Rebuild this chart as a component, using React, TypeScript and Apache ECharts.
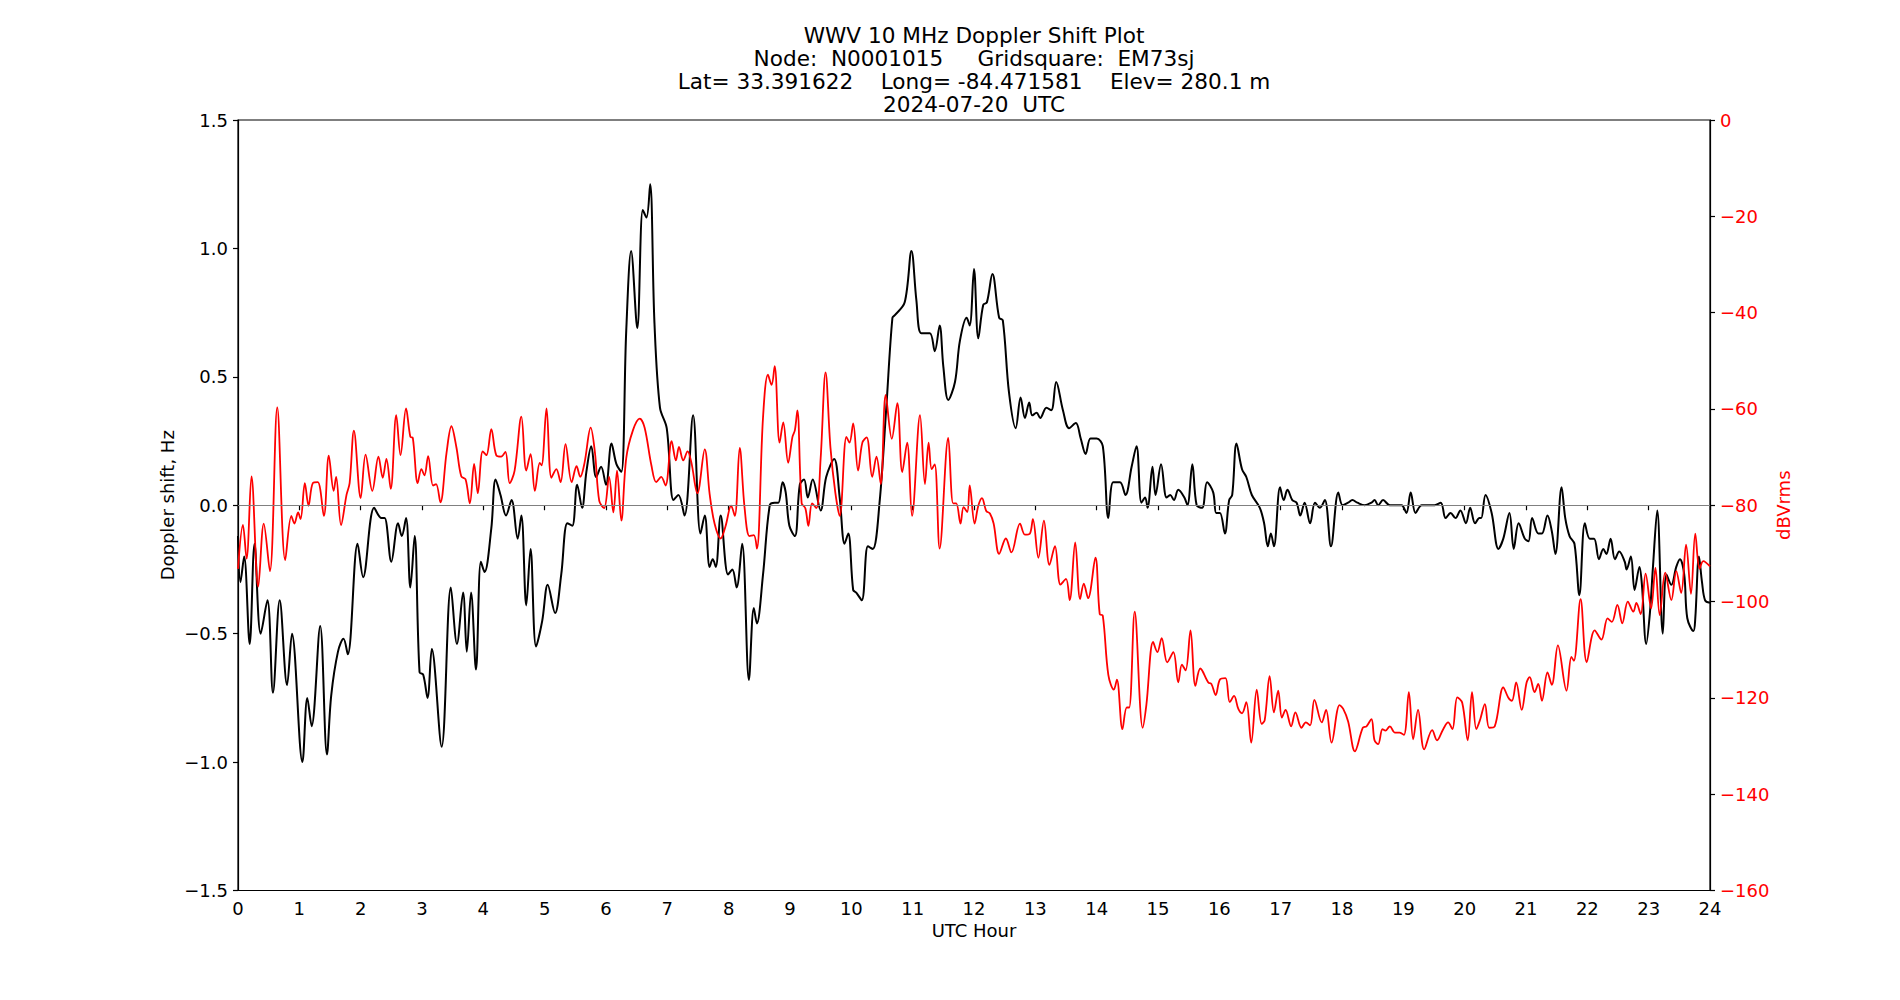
import React, { useEffect, useRef } from "react";
import * as echarts from "echarts";

const titleLines = [
  "WWV 10 MHz Doppler Shift Plot",
  "Node:  N0001015     Gridsquare:  EM73sj",
  "Lat= 33.391622    Long= -84.471581    Elev= 280.1 m",
  "2024-07-20  UTC",
];

const dopplerT = [
  0.0, 0.04, 0.1, 0.19, 0.27, 0.37, 0.48, 0.57, 0.68, 0.8, 0.88, 1.05, 1.13, 1.2, 1.34, 1.45, 1.52, 1.63, 1.72, 1.79,
  1.95, 2.04, 2.22, 2.34, 2.39, 2.5, 2.61, 2.67, 2.74, 2.81, 2.88, 2.96, 3.02, 3.09, 3.16, 3.32, 3.47, 3.57, 3.67, 3.73,
  3.8, 3.88, 3.96, 4.02, 4.13, 4.2, 4.28, 4.37, 4.46, 4.56, 4.62, 4.7, 4.77, 4.86, 4.96, 5.05, 5.17, 5.27, 5.37, 5.45,
  5.53, 5.61, 5.68, 5.76, 5.84, 5.92, 6.0, 6.09, 6.17, 6.25, 6.33, 6.41, 6.51, 6.6, 6.66, 6.72, 6.79, 6.88, 6.99, 7.1,
  7.18, 7.28, 7.42, 7.54, 7.61, 7.69, 7.74, 7.79, 7.87, 7.99, 8.06, 8.13, 8.22, 8.33, 8.41, 8.46, 8.56, 8.67, 8.75, 8.81,
  8.88, 8.93, 8.99, 9.08, 9.16, 9.23, 9.29, 9.37, 9.5, 9.59, 9.72, 9.81, 9.89, 9.95, 10.03, 10.08, 10.17, 10.27, 10.35,
  10.46, 10.57, 10.67, 10.71, 10.87, 10.98, 11.06, 11.14, 11.28, 11.36, 11.44, 11.5, 11.58, 11.69, 11.77, 11.88, 11.93,
  12.0, 12.07, 12.15, 12.21, 12.3, 12.41, 12.47, 12.57, 12.68, 12.76, 12.83, 12.9, 12.95, 13.02, 13.08, 13.18, 13.26,
  13.34, 13.45, 13.55, 13.66, 13.74, 13.82, 13.9, 14.0, 14.1, 14.19, 14.27, 14.38, 14.47, 14.57, 14.65, 14.73, 14.79,
  14.83, 14.91, 14.96, 15.05, 15.14, 15.2, 15.26, 15.33, 15.43, 15.48, 15.56, 15.63, 15.72, 15.8, 15.9, 15.95, 16.01,
  16.09, 16.16, 16.21, 16.28, 16.37, 16.44, 16.53, 16.66, 16.73, 16.79, 16.84, 16.89, 16.99, 17.05, 17.11, 17.19, 17.26,
  17.32, 17.39, 17.48, 17.56, 17.64, 17.72, 17.82, 17.94, 18.01, 18.1, 18.17, 18.25, 18.37, 18.48, 18.53, 18.59, 18.67,
  18.78, 18.97, 19.05, 19.12, 19.2, 19.3, 19.51, 19.61, 19.69, 19.77, 19.85, 19.93, 20.02, 20.09, 20.17, 20.24, 20.27,
  20.34, 20.44, 20.55, 20.63, 20.73, 20.8, 20.88, 20.98, 21.04, 21.1, 21.2, 21.26, 21.35, 21.42, 21.48, 21.58, 21.64,
  21.71, 21.79, 21.87, 21.96, 22.04, 22.11, 22.19, 22.26, 22.31, 22.38, 22.45, 22.52, 22.61, 22.64, 22.71, 22.77, 22.85,
  22.89, 22.96, 23.02, 23.07, 23.14, 23.23, 23.29, 23.37, 23.45, 23.51, 23.58, 23.63, 23.73, 23.76, 23.82, 23.87, 23.92,
  24.0,
];
const dopplerHz = [
  -0.12, -0.3, -0.2, -0.54, -0.15, -0.5, -0.37, -0.73, -0.37, -0.7, -0.5, -1.0, -0.75, -0.86, -0.47, -0.97, -0.74, -0.57,
  -0.52, -0.58, -0.15, -0.28, -0.01, -0.05, -0.05, -0.22, -0.07, -0.12, -0.05, -0.32, -0.12, -0.65, -0.66, -0.75, -0.56,
  -0.94, -0.32, -0.54, -0.34, -0.57, -0.34, -0.64, -0.22, -0.26, -0.09, 0.1, 0.04, -0.04, 0.02, -0.13, -0.04, -0.39,
  -0.17, -0.55, -0.45, -0.31, -0.42, -0.27, -0.07, -0.08, 0.08, -0.01, 0.13, 0.23, 0.11, 0.15, 0.08, 0.24, 0.16, 0.13,
  0.68, 0.99, 0.69, 1.15, 1.12, 1.25, 0.71, 0.38, 0.3, 0.02, 0.04, -0.04, 0.35, -0.11, -0.04, -0.24, -0.21, -0.24, -0.04,
  -0.27, -0.25, -0.32, -0.15, -0.68, -0.4, -0.46, -0.27, 0.0, 0.01, 0.01, 0.09, 0.05, -0.08, -0.12, 0.08, 0.1, 0.03, 0.1,
  -0.02, 0.11, 0.18, 0.03, -0.15, -0.11, -0.33, -0.34, -0.37, -0.16, -0.17, 0.01, 0.38, 0.73, 0.74, 0.79, 0.99, 0.8, 0.67,
  0.67, 0.6, 0.7, 0.54, 0.41, 0.48, 0.64, 0.73, 0.7, 0.92, 0.65, 0.78, 0.79, 0.9, 0.73, 0.72, 0.44, 0.3, 0.42, 0.34, 0.4,
  0.35, 0.36, 0.34, 0.38, 0.37, 0.48, 0.37, 0.3, 0.32, 0.26, 0.2, 0.26, 0.26, 0.23, -0.05, 0.09, 0.09, 0.04, 0.15, 0.23,
  0.01, 0.03, -0.01, 0.15, 0.04, 0.16, 0.03, 0.04, 0.02, 0.06, 0.03, 0.0, 0.16, 0.0, -0.01, 0.09, 0.05, -0.03, -0.03,
  -0.11, 0.02, 0.04, 0.24, 0.14, 0.11, 0.04, -0.01, -0.07, -0.16, -0.11, -0.16, 0.07, 0.02, 0.06, 0.02, 0.01, -0.04, 0.01,
  -0.07, 0.01, -0.01, 0.02, -0.16, 0.05, 0.0, 0.01, 0.02, 0.01, 0.0, 0.01, 0.02, 0.0, 0.02, 0.0, 0.0, -0.03, 0.05, -0.03,
  0.0, 0.0, 0.01, -0.05, -0.03, -0.05, -0.02, -0.07, -0.01, -0.07, -0.05, -0.05, 0.04, -0.03, -0.17, -0.13, -0.03, -0.17,
  -0.07, -0.13, -0.14, -0.05, -0.11, -0.11, -0.04, -0.1, -0.19, 0.07, -0.05, -0.12, -0.15, -0.35, -0.07, -0.13, -0.13,
  -0.21, -0.17, -0.19, -0.13, -0.21, -0.18, -0.22, -0.25, -0.2, -0.33, -0.24, -0.31, -0.54, -0.42, -0.24, -0.02, -0.5,
  -0.27, -0.31, -0.24, -0.21, -0.27, -0.44, -0.49, -0.44, -0.2, -0.3, -0.37, -0.38,
];

const powerT = [
  0.0, 0.08, 0.14, 0.22, 0.33, 0.42, 0.52, 0.64, 0.77, 0.87, 0.92, 0.98, 1.02, 1.09, 1.15, 1.22, 1.3, 1.4, 1.48, 1.56, 1.6,
  1.68, 1.77, 1.82, 1.89, 2.0, 2.08, 2.19, 2.29, 2.36, 2.42, 2.49, 2.58, 2.65, 2.74, 2.81, 2.85, 2.93, 2.99, 3.04, 3.1,
  3.18, 3.23, 3.3, 3.4, 3.48, 3.56, 3.64, 3.71, 3.78, 3.85, 3.91, 3.99, 4.05, 4.13, 4.21, 4.29, 4.36, 4.43, 4.51, 4.62,
  4.7, 4.77, 4.84, 4.92, 4.95, 5.03, 5.11, 5.19, 5.26, 5.34, 5.44, 5.52, 5.58, 5.65, 5.75, 5.82, 5.89, 5.97, 6.05, 6.12,
  6.18, 6.25, 6.33, 6.44, 6.55, 6.63, 6.74, 6.82, 6.9, 6.97, 7.07, 7.14, 7.19, 7.26, 7.33, 7.39, 7.49, 7.61, 7.69, 7.77,
  7.87, 7.95, 8.04, 8.1, 8.18, 8.26, 8.34, 8.41, 8.46, 8.56, 8.64, 8.7, 8.75, 8.83, 8.89, 8.97, 9.04, 9.08, 9.12, 9.19,
  9.25, 9.3, 9.36, 9.43, 9.5, 9.58, 9.66, 9.74, 9.81, 9.92, 9.97, 10.03, 10.11, 10.18, 10.25, 10.34, 10.41, 10.48, 10.56,
  10.66, 10.75, 10.83, 10.91, 10.99, 11.12, 11.2, 11.26, 11.31, 11.36, 11.44, 11.58, 11.66, 11.71, 11.78, 11.83, 11.89,
  11.93, 12.01, 12.07, 12.13, 12.2, 12.26, 12.32, 12.41, 12.52, 12.61, 12.75, 12.83, 12.91, 12.96, 13.05, 13.14, 13.23,
  13.32, 13.41, 13.5, 13.56, 13.65, 13.73, 13.79, 13.86, 13.98, 14.05, 14.1, 14.19, 14.28, 14.33, 14.42, 14.49, 14.53,
  14.62, 14.75, 14.81, 14.92, 14.99, 15.06, 15.15, 15.25, 15.33, 15.39, 15.45, 15.53, 15.61, 15.69, 15.82, 15.87, 15.94,
  16.01, 16.1, 16.17, 16.24, 16.31, 16.37, 16.44, 16.52, 16.61, 16.69, 16.74, 16.82, 16.89, 16.96, 17.02, 17.08, 17.17,
  17.24, 17.34, 17.41, 17.48, 17.55, 17.67, 17.74, 17.83, 17.96, 18.02, 18.1, 18.21, 18.34, 18.4, 18.48, 18.53, 18.59,
  18.66, 18.71, 18.78, 18.86, 18.94, 19.01, 19.09, 19.16, 19.24, 19.34, 19.47, 19.55, 19.65, 19.73, 19.8, 19.88, 19.96,
  20.05, 20.12, 20.19, 20.25, 20.33, 20.4, 20.49, 20.63, 20.71, 20.77, 20.84, 20.93, 21.01, 21.06, 21.14, 21.2, 21.26,
  21.35, 21.42, 21.52, 21.66, 21.74, 21.78, 21.89, 21.99, 22.12, 22.23, 22.33, 22.4, 22.49, 22.57, 22.66, 22.75, 22.8,
  22.87, 22.95, 23.04, 23.11, 23.18, 23.27, 23.37, 23.45, 23.53, 23.61, 23.69, 23.76, 23.83, 23.89, 24.0,
];
const powerDb = [
  -93.2, -84.1, -91.1, -74.0, -96.9, -83.8, -93.7, -59.7, -91.4, -82.2, -83.8, -81.5, -82.9, -75.4, -80.1, -75.4, -75.2,
  -82.2, -69.7, -77.0, -74.1, -84.1, -77.8, -75.4, -64.5, -78.5, -69.5, -77.0, -69.9, -74.3, -70.4, -76.6, -61.3, -69.6,
  -59.9, -65.8, -66.0, -75.4, -72.5, -73.8, -69.8, -75.9, -75.6, -79.4, -69.1, -63.6, -67.9, -74.0, -74.6, -79.6, -71.4,
  -77.5, -68.8, -69.6, -64.2, -69.6, -69.9, -68.9, -75.4, -72.8, -61.6, -72.8, -69.4, -77.0, -71.2, -71.7, -59.9, -74.3,
  -72.5, -75.2, -67.3, -75.2, -71.9, -74.1, -71.2, -63.9, -69.1, -79.1, -80.6, -74.1, -81.5, -72.8, -83.2, -70.2, -64.4,
  -62.0, -63.9, -71.7, -75.2, -74.1, -75.9, -66.7, -70.7, -67.9, -70.7, -68.8, -71.0, -77.5, -68.4, -77.7, -83.8, -86.9,
  -84.3, -80.1, -82.2, -68.1, -80.6, -86.4, -86.2, -89.0, -61.8, -52.9, -55.0, -51.1, -67.0, -62.8, -71.2, -65.8, -64.4,
  -60.3, -79.6, -80.6, -84.3, -79.6, -80.6, -70.2, -52.4, -68.1, -77.5, -82.2, -65.8, -67.0, -63.0, -72.8, -67.0, -65.9,
  -74.1, -69.9, -75.6, -57.1, -66.2, -58.8, -73.1, -67.0, -82.2, -61.3, -75.6, -67.0, -72.5, -71.5, -89.0, -66.0, -79.6,
  -79.6, -83.8, -80.4, -81.4, -75.9, -83.8, -80.1, -78.5, -81.2, -81.7, -83.8, -90.1, -86.9, -89.8, -83.8, -86.1, -85.9,
  -82.9, -90.9, -83.2, -92.4, -88.5, -96.5, -95.3, -99.7, -87.7, -99.5, -96.3, -99.3, -90.9, -102.6, -102.9, -115.2,
  -118.3, -116.2, -126.5, -122.0, -122.0, -102.1, -126.2, -121.5, -108.4, -110.5, -107.6, -112.6, -110.5, -116.8, -113.1,
  -114.3, -106.0, -117.5, -113.9, -116.8, -117.1, -119.4, -116.2, -115.9, -120.9, -119.6, -122.3, -123.2, -120.9, -129.3,
  -118.3, -125.4, -124.6, -115.5, -123.0, -118.5, -124.1, -122.5, -125.9, -123.0, -126.2, -125.1, -125.7, -120.4, -125.1,
  -122.5, -129.3, -121.5, -122.3, -124.9, -131.1, -126.2, -125.9, -124.4, -128.8, -129.6, -126.5, -126.8, -125.9, -127.2,
  -127.2, -127.7, -118.8, -128.6, -122.5, -130.7, -126.7, -128.8, -126.5, -125.1, -126.5, -119.9, -121.0, -128.8, -118.8,
  -126.5, -124.6, -121.3, -126.2, -125.9, -117.8, -119.9, -120.6, -116.8, -122.5, -116.8, -115.7, -118.8, -117.1, -120.6,
  -114.7, -117.3, -109.1, -118.5, -111.5, -112.3, -99.5, -112.6, -106.0, -107.9, -103.5, -104.2, -100.7, -104.5, -100.0,
  -102.1, -100.3, -102.6, -94.2, -101.4, -93.0, -102.8, -94.0, -99.7, -93.7, -98.2, -88.2, -98.4, -85.9, -93.2, -91.6,
  -92.7,
];

const FONT = "DejaVu Sans";
const minus = (s: string) => s.replace("-", "\u2212");

export default function App() {
  const ref = useRef<HTMLDivElement>(null);
  useEffect(() => {
    document.body.style.margin = "0";
    if (!ref.current) return;
    const chart = echarts.init(ref.current, undefined, { renderer: "svg" });
    const left = 238;
    const right = 1710;
    const top = 120;
    const bottom = 890.5;
    const cx = (left + right) / 2;
    const cy = (top + bottom) / 2;
    const titleY = [35, 58, 81, 104];
    const tickFont = 18;
    chart.setOption({
      animation: false,
      backgroundColor: "#ffffff",
      grid: {
        left,
        top,
        width: right - left,
        height: bottom - top,
        show: true,
        borderColor: "#000",
        borderWidth: 1.2,
        backgroundColor: "transparent",
      },
      xAxis: {
        type: "value",
        min: 0,
        max: 24,
        interval: 1,
        axisLine: { show: true, lineStyle: { color: "#000", width: 1.2 } },
        axisTick: { show: true, inside: false, length: 5, lineStyle: { color: "#000", width: 1.2 } },
        axisLabel: { color: "#000", fontFamily: FONT, fontSize: tickFont, margin: 9 },
        splitLine: { show: false },
      },
      yAxis: [
        {
          type: "value",
          min: -1.5,
          max: 1.5,
          interval: 0.5,
          position: "left",
          axisLine: { show: true, lineStyle: { color: "#000", width: 1.2 } },
          axisTick: { show: true, inside: false, length: 5, lineStyle: { color: "#000", width: 1.2 } },
          axisLabel: {
            color: "#000",
            fontFamily: FONT,
            fontSize: tickFont,
            margin: 10,
            formatter: (v: number) => minus(v.toFixed(1)),
          },
          splitLine: { show: false },
        },
        {
          type: "value",
          min: -160,
          max: 0,
          interval: 20,
          position: "right",
          axisLine: { show: true, lineStyle: { color: "#000", width: 1.2 } },
          axisTick: { show: true, inside: false, length: 5, lineStyle: { color: "#000", width: 1.2 } },
          axisLabel: {
            color: "#ff0000",
            fontFamily: FONT,
            fontSize: tickFont,
            margin: 10,
            formatter: (v: number) => minus(String(Math.round(v))),
          },
          splitLine: { show: false },
        },
      ],
      graphic: [
        ...titleLines.map((t, i) => ({
          type: "text",
          x: cx,
          y: titleY[i],
          style: {
            text: t,
            fill: "#000",
            font: `21.6px "${FONT}"`,
            textAlign: "center",
            textVerticalAlign: "middle",
          },
        })),
        {
          type: "text",
          x: cx,
          y: 930,
          style: {
            text: "UTC Hour",
            fill: "#000",
            font: `${tickFont}px "${FONT}"`,
            textAlign: "center",
            textVerticalAlign: "middle",
          },
        },
        {
          type: "text",
          x: 167,
          y: cy,
          rotation: Math.PI / 2,
          style: {
            text: "Doppler shift, Hz",
            fill: "#000",
            font: `${tickFont}px "${FONT}"`,
            textAlign: "center",
            textVerticalAlign: "middle",
          },
        },
        {
          type: "text",
          x: 1783,
          y: cy,
          rotation: Math.PI / 2,
          style: {
            text: "dBVrms",
            fill: "#ff0000",
            font: `${tickFont}px "${FONT}"`,
            textAlign: "center",
            textVerticalAlign: "middle",
          },
        },
      ],
      series: [
        {
          type: "line",
          yAxisIndex: 0,
          data: dopplerT.map((t, i) => [t, dopplerHz[i]]),
          showSymbol: false,
          smooth: 0.35,
          lineStyle: { color: "#000", width: 2 },
          z: 3,
          markLine: {
            silent: true,
            symbol: ["none", "none"],
            label: { show: false },
            lineStyle: { color: "#808080", width: 1, type: "solid" },
            data: [{ yAxis: 0 }],
          },
        },
        {
          type: "line",
          yAxisIndex: 1,
          data: powerT.map((t, i) => [t, powerDb[i]]),
          showSymbol: false,
          smooth: 0.35,
          lineStyle: { color: "#ff0000", width: 1.8 },
          z: 4,
        },
      ],
    });
    return () => chart.dispose();
  }, []);
  return <div ref={ref} style={{ width: 1900, height: 1000 }} />;
}
